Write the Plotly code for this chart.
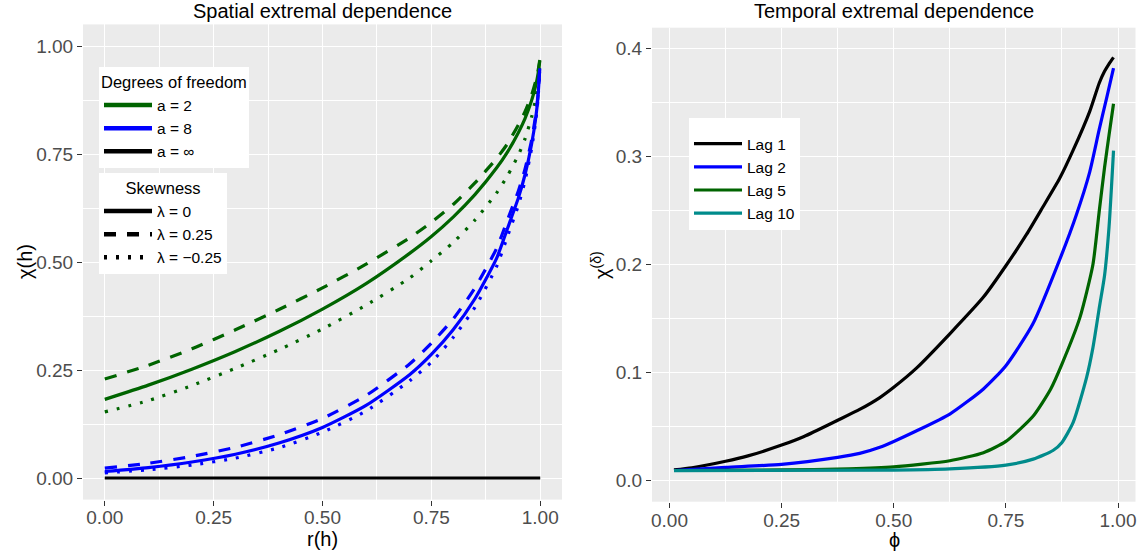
import plotly.graph_objects as go

# ---------------- Left panel data: spatial extremal dependence ----------------
r_vals = [0, 0.1, 0.2, 0.3, 0.4, 0.5, 0.6, 0.7, 0.75, 0.8, 0.85, 0.9, 0.925,
          0.95, 0.965, 0.98, 0.99, 0.995, 0.999]
chi_a2_lam0 = [0.182, 0.215, 0.252, 0.293, 0.339, 0.391, 0.450, 0.520, 0.559, 0.604,
               0.656, 0.718, 0.755, 0.800, 0.832, 0.873, 0.910, 0.936, 0.965]
chi_a2_lampos = [0.229, 0.261, 0.299, 0.343, 0.390, 0.440, 0.495, 0.556, 0.592, 0.633,
                 0.683, 0.740, 0.774, 0.818, 0.848, 0.886, 0.920, 0.943, 0.968]
chi_a2_lamneg = [0.153, 0.179, 0.214, 0.254, 0.297, 0.345, 0.400, 0.463, 0.503, 0.545,
                 0.597, 0.660, 0.700, 0.748, 0.785, 0.835, 0.880, 0.915, 0.962]
chi_a8_lam0 = [0.015, 0.024, 0.037, 0.055, 0.081, 0.117, 0.168, 0.239, 0.286, 0.343,
               0.415, 0.509, 0.578, 0.649, 0.702, 0.772, 0.836, 0.884, 0.948]
chi_a8_lampos = [0.023, 0.034, 0.050, 0.071, 0.100, 0.138, 0.191, 0.264, 0.312, 0.368,
                 0.440, 0.532, 0.598, 0.665, 0.715, 0.781, 0.842, 0.888, 0.950]
chi_a8_lamneg = [0.012, 0.019, 0.030, 0.046, 0.070, 0.106, 0.155, 0.225, 0.268, 0.325,
                 0.395, 0.490, 0.560, 0.632, 0.688, 0.762, 0.829, 0.879, 0.946]
r_gauss = [0, 1]
chi_gauss = [0, 0]

# ---------------- Right panel data: temporal extremal dependence ----------------
phi_lag1 = [0.01, 0.05, 0.125, 0.175, 0.25, 0.3, 0.375, 0.424, 0.469, 0.5, 0.55, 0.625,
            0.7, 0.75, 0.796, 0.829, 0.87, 0.9, 0.937, 0.958, 0.97, 0.98, 0.99]
chi_lag1 = [0.010, 0.012, 0.018, 0.023, 0.033, 0.041, 0.056, 0.066, 0.077, 0.0865, 0.104,
            0.136, 0.170, 0.199, 0.228, 0.251, 0.280, 0.306, 0.342, 0.368, 0.379, 0.386, 0.392]
phi_lag2 = [0.01, 0.125, 0.25, 0.375, 0.424, 0.469, 0.5, 0.55, 0.625, 0.7, 0.75, 0.81,
            0.875, 0.907, 0.937, 0.958, 0.975, 0.99]
chi_lag2 = [0.0095, 0.0124, 0.0152, 0.0217, 0.0253, 0.031, 0.0364, 0.046, 0.0617, 0.085,
            0.1065, 0.145, 0.21, 0.246, 0.286, 0.325, 0.355, 0.382]
phi_lag5 = [0.01, 0.25, 0.4, 0.5, 0.625, 0.7, 0.75, 0.811, 0.85, 0.875, 0.915, 0.944,
            0.958, 0.97, 0.98, 0.99]
chi_lag5 = [0.0095, 0.0100, 0.0110, 0.0128, 0.0185, 0.026, 0.0364, 0.060, 0.085, 0.108,
            0.151, 0.200, 0.249, 0.290, 0.320, 0.349]
phi_lag10 = [0.01, 0.5, 0.625, 0.75, 0.811, 0.855, 0.875, 0.9, 0.93, 0.944, 0.959, 0.97,
             0.98, 0.99]
chi_lag10 = [0.0093, 0.0099, 0.011, 0.0145, 0.020, 0.028, 0.0355, 0.054, 0.0957, 0.123,
             0.162, 0.19, 0.235, 0.3056]

# ---------------- Style ----------------
FONT = "Liberation Sans, Arial, Helvetica, sans-serif"
GREEN = "#006400"
BLUE = "#0000FF"
BLACK = "#000000"
TEAL = "#008B8B"
DASH = "12px,11px"
DOT = "3px,9px"
LW = 3.2

fig = go.Figure()

def curve(x, y, color, dash="solid", xa="x", ya="y", name=None, legend=None, width=LW):
    fig.add_trace(go.Scatter(
        x=x, y=y, mode="lines", xaxis=xa, yaxis=ya,
        line=dict(color=color, width=width, dash=dash, shape="spline", smoothing=0.6),
        name=name, showlegend=name is not None, legend=legend, hoverinfo="skip"))

# left panel curves
curve(r_gauss, chi_gauss, BLACK)
curve(r_vals, chi_a2_lam0, GREEN)
curve(r_vals, chi_a2_lampos, GREEN, DASH)
curve(r_vals, chi_a2_lamneg, GREEN, DOT)
curve(r_vals, chi_a8_lam0, BLUE)
curve(r_vals, chi_a8_lampos, BLUE, DASH)
curve(r_vals, chi_a8_lamneg, BLUE, DOT)

# legend-only keys for the left panel
def key(name, color, dash, legend):
    fig.add_trace(go.Scatter(x=[None], y=[None], mode="lines", xaxis="x", yaxis="y",
                             line=dict(color=color, width=4.5, dash=dash),
                             name=name, legend=legend, showlegend=True))

key("a = 2", GREEN, "solid", "legend")
key("a = 8", BLUE, "solid", "legend")
key("a = ∞", BLACK, "solid", "legend")
key("λ = 0", BLACK, "solid", "legend2")
key("λ = 0.25", BLACK, DASH, "legend2")
key("λ = −0.25", BLACK, DOT, "legend2")

# right panel curves
curve(phi_lag1, chi_lag1, BLACK, xa="x2", ya="y2", name="Lag 1", legend="legend3")
curve(phi_lag2, chi_lag2, BLUE, xa="x2", ya="y2", name="Lag 2", legend="legend3")
curve(phi_lag5, chi_lag5, GREEN, xa="x2", ya="y2", name="Lag 5", legend="legend3")
curve(phi_lag10, chi_lag10, TEAL, xa="x2", ya="y2", name="Lag 10", legend="legend3")

W, H = 1146, 554
def px_x(p):
    return p / W
def px_y(p):
    return 1 - p / H

axis_common = dict(
    showgrid=True, gridcolor="white", gridwidth=1.3, zeroline=False,
    showline=False, ticks="outside", ticklen=5, tickwidth=1, tickcolor="#333333",
    tickfont=dict(family=FONT, size=19, color="#4D4D4D"), automargin=False,
)
minor_lr = dict(tickvals=[0.125, 0.375, 0.625, 0.875], showgrid=True,
                gridcolor="white", gridwidth=0.6, ticks="")

LEG_FONT = dict(family=FONT, size=15.5, color="black")
LEG_TITLE = dict(family=FONT, size=16.5, color="black")

def label(text, xp, yp, angle=0, size=20):
    return dict(text=text, x=px_x(xp), y=px_y(yp), xref="paper", yref="paper",
                showarrow=False, xanchor="center", yanchor="middle", textangle=angle,
                font=dict(family=FONT, size=size, color="black"))

fig.update_layout(
    width=W, height=H,
    margin=dict(l=0, r=0, t=0, b=0),
    paper_bgcolor="white", plot_bgcolor="#EBEBEB",
    font=dict(family=FONT, color="black"),
    xaxis=dict(**axis_common, domain=[px_x(83), px_x(562)], range=[-0.05, 1.05],
               tickvals=[0, 0.25, 0.5, 0.75, 1.0], tickformat=".2f", anchor="y",
               minor=minor_lr, ticklabelstandoff=-4),
    yaxis=dict(**axis_common, domain=[px_y(499.6), px_y(24.4)], range=[-0.05, 1.05],
               tickvals=[0, 0.25, 0.5, 0.75, 1.0], tickformat=".2f", anchor="x",
               minor=minor_lr),
    xaxis2=dict(**axis_common, domain=[px_x(652), px_x(1135.5)], range=[-0.039, 1.039],
                tickvals=[0, 0.25, 0.5, 0.75, 1.0], tickformat=".2f", anchor="y2",
                minor=minor_lr, ticklabelstandoff=-4),
    yaxis2=dict(**axis_common, domain=[px_y(501.7), px_y(27.7)], range=[-0.0194, 0.4194],
                tickvals=[0, 0.1, 0.2, 0.3, 0.4], tickformat=".1f", anchor="x2",
                minor=dict(tickvals=[0.05, 0.15, 0.25, 0.35], showgrid=True,
                           gridcolor="white", gridwidth=0.6, ticks="")),
    legend=dict(x=px_x(99), y=px_y(67), xanchor="left", yanchor="top",
                bgcolor="white", font=LEG_FONT, itemwidth=48,
                title=dict(text="Degrees of freedom", font=LEG_TITLE),
                tracegroupgap=0),
    legend2=dict(x=px_x(99), y=px_y(173), xanchor="left", yanchor="top",
                 bgcolor="white", font=LEG_FONT, itemwidth=48,
                 title=dict(text="Skewness", font=LEG_TITLE, side="top center"),
                 tracegroupgap=0),
    legend3=dict(x=px_x(689), y=px_y(118), xanchor="left", yanchor="top",
                 bgcolor="white", font=LEG_FONT, itemwidth=48,
                 title=dict(text=" ", font=dict(family=FONT, size=7)),
                 tracegroupgap=0),
    annotations=[
        label("Spatial extremal dependence", 322.5, 11),
        label("Temporal extremal dependence", 893.5, 11),
        label("r(h)", 322.5, 539),
        label("ϕ", 894, 540),
        label("χ(h)", 25, 262, angle=-90),
        label("χ<sup>(δ)</sup>", 600, 265, angle=-90),
    ],
)

fig.write_html("out.html",
               config={"displayModeBar": False},
               post_script="document.body.style.margin='0';document.body.style.padding='0';"
                           "document.documentElement.style.overflow='hidden';")
